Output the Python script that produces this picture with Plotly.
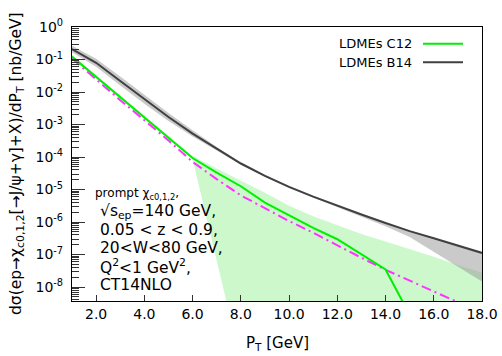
import plotly.graph_objects as go

# P_T grid (GeV)
pt = [1, 2, 3, 4, 5, 6, 7, 8, 9, 10, 11, 12, 13, 14, 15, 16, 17, 18]

# LDMEs B14 (central, band upper, band lower)
b14 = [0.209, 0.0794, 0.0219, 6.03e-3, 1.70e-3, 5.25e-4, 1.78e-4, 6.31e-5, 2.63e-5,
       1.20e-5, 6.03e-6, 3.16e-6, 1.70e-6, 9.33e-7, 5.25e-7, 3.16e-7, 1.86e-7, 1.12e-7]
b14_hi = [0.263, 0.105, 0.0302, 8.32e-3, 2.24e-3, 6.61e-4, 2.04e-4, 6.92e-5, 2.82e-5,
          1.26e-5, 6.03e-6, 3.16e-6, 1.70e-6, 9.33e-7, 5.25e-7, 3.16e-7, 1.86e-7, 1.12e-7]
b14_lo = [0.166, 0.0603, 0.0158, 4.37e-3, 1.29e-3, 4.27e-4, 1.58e-4, 5.89e-5, 2.45e-5,
          1.12e-5, 5.50e-6, 2.82e-6, 1.45e-6, 7.41e-7, 3.47e-7, 1.23e-7, 4.17e-8, 1.48e-8]

# LDMEs C12 (central line drawn up to 15 GeV)
pt_c12 = [1, 2, 3, 4, 5, 6, 7, 8, 9, 10, 11, 12, 13, 14, 15]
c12 = [0.123, 0.0295, 6.92e-3, 1.66e-3, 3.89e-4, 9.33e-5, 3.31e-5, 1.26e-5, 3.98e-6,
       1.62e-6, 6.61e-7, 2.95e-7, 1.02e-7, 3.47e-8, 1.41e-9]
c12_hi = [0.135, 0.0324, 7.59e-3, 1.86e-3, 4.68e-4, 1.07e-4, 4.47e-5, 1.91e-5, 7.94e-6,
          3.16e-6, 1.51e-6, 7.94e-7, 4.27e-7, 2.51e-7, 1.48e-7, 8.51e-8, 4.79e-8, 2.75e-8]
c12_lo = [0.112, 0.0269, 6.31e-3, 1.51e-3, 3.55e-4, 8.51e-5, 6.76e-8, 5.0e-11, 1e-12,
          1e-12, 1e-12, 1e-12, 1e-12, 1e-12, 1e-12, 1e-12, 1e-12, 1e-12]

# magenta dash-dot curve
mag = [0.107, 0.0240, 5.62e-3, 1.35e-3, 3.24e-4, 7.08e-5, 2.09e-5, 6.61e-6, 2.63e-6,
       1.07e-6, 4.68e-7, 1.91e-7, 7.94e-8, 3.39e-8, 1.58e-8, 7.41e-9, 3.39e-9, 1.58e-9]

ytick_vals = [1, 1e-1, 1e-2, 1e-3, 1e-4, 1e-5, 1e-6, 1e-7, 1e-8]
ytick_text = ["10<sup>0</sup>", "10<sup>-1</sup>", "10<sup>-2</sup>", "10<sup>-3</sup>",
              "10<sup>-4</sup>", "10<sup>-5</sup>", "10<sup>-6</sup>", "10<sup>-7</sup>",
              "10<sup>-8</sup>"]

GREEN = "#00ee00"
DARK = "#404040"
MAG = "#ff33ff"

fig = go.Figure()
# C12 band
fig.add_trace(go.Scatter(x=pt + pt[::-1], y=c12_hi + c12_lo[::-1], fill="toself",
                         fillcolor="#ccf8cc", line=dict(width=0), mode="lines",
                         hoverinfo="skip", showlegend=False))
# B14 band
fig.add_trace(go.Scatter(x=pt + pt[::-1], y=b14_hi + b14_lo[::-1], fill="toself",
                         fillcolor="rgba(150,150,150,0.5)", line=dict(width=0), mode="lines",
                         hoverinfo="skip", showlegend=False))
fig.add_trace(go.Scatter(x=pt, y=mag, mode="lines",
                         line=dict(color=MAG, width=2, dash="10px,4px,2px,4px"),
                         showlegend=False))
fig.add_trace(go.Scatter(x=pt_c12, y=c12, mode="lines", line=dict(color=GREEN, width=2),
                         showlegend=False))
fig.add_trace(go.Scatter(x=pt, y=b14, mode="lines", line=dict(color=DARK, width=2),
                         showlegend=False))

L, R, T, B = 72, 20, 27, 55
W, H = 502, 356
pw, ph = W - L - R, H - T - B

def px(x):
    return (x - L) / pw

def py(y):
    return (H - B - y) / ph

font = "DejaVu Sans"

fig.update_layout(
    width=W, height=H, margin=dict(l=L, r=R, t=T, b=B, autoexpand=False),
    paper_bgcolor="white", plot_bgcolor="white", showlegend=False,
    font=dict(family=font, color="black", size=14),
    xaxis=dict(range=[1, 18], tick0=2, dtick=2, tickformat=".1f", ticks="inside",
               ticklen=6, tickcolor="#333", showline=True, linecolor="black", linewidth=1.2,
               mirror=True, showgrid=False, zeroline=False, automargin=False,
               tickfont=dict(size=14)),
    yaxis=dict(type="log", range=[-8.43, 0], tickvals=ytick_vals, ticktext=ytick_text,
               ticks="inside", ticklen=13, tickcolor="#333", showline=True,
               linecolor="black", linewidth=1.2, mirror=True, showgrid=False,
               zeroline=False, tickfont=dict(size=14), ticklabelstandoff=5,
               automargin=False,
               minor=dict(ticks="inside", ticklen=7, tickcolor="#333", dtick="D1",
                          showgrid=False)),
)

# x-axis title
fig.add_annotation(xref="paper", yref="paper", x=0.5, y=py(343), showarrow=False,
                   xanchor="center", yanchor="middle", text="P<sub>T</sub> [GeV]",
                   font=dict(size=15))

# y-axis title
fig.add_annotation(xref="paper", yref="paper", x=px(17), y=0.5, textangle=-90,
                   showarrow=False, xanchor="center", yanchor="middle",
                   text="dσ(ep→χ<sub>c0,1,2</sub>[→J/ψ+γ]+X)/dP<sub>T</sub> [nb/GeV]",
                   font=dict(size=15.5))

# legend (manual, gnuplot style)
leg = [("LDMEs C12", GREEN, 43.7), ("LDMEs B14", DARK, 62.3)]
for name, col, yy in leg:
    fig.add_annotation(xref="paper", yref="paper", x=px(414), y=py(yy), text=name,
                       showarrow=False, xanchor="right", yanchor="middle",
                       font=dict(size=13))
    fig.add_shape(type="line", xref="paper", yref="paper", x0=px(423), x1=px(463),
                  y0=py(yy), y1=py(yy), line=dict(color=col, width=2))

# info text
info = [("prompt χ<sub>c0,1,2</sub>,", 93, 194, 12),
        ("√s<sub>ep</sub>=140 GeV,", 98, 212, 15.5),
        ("0.05 < z < 0.9,", 98, 229.5, 15.5),
        ("20<W<80 GeV,", 98, 247.5, 15.5),
        ("Q<sup>2</sup><1 GeV<sup>2</sup>,", 98, 266, 15.5),
        ("CT14NLO", 98, 285, 15.5)]
for txt, xx, yy, fs in info:
    fig.add_annotation(xref="paper", yref="paper", x=px(xx), y=py(yy), text=txt,
                       showarrow=False, xanchor="left", yanchor="middle",
                       font=dict(size=fs))

fig.write_html("out.html")
